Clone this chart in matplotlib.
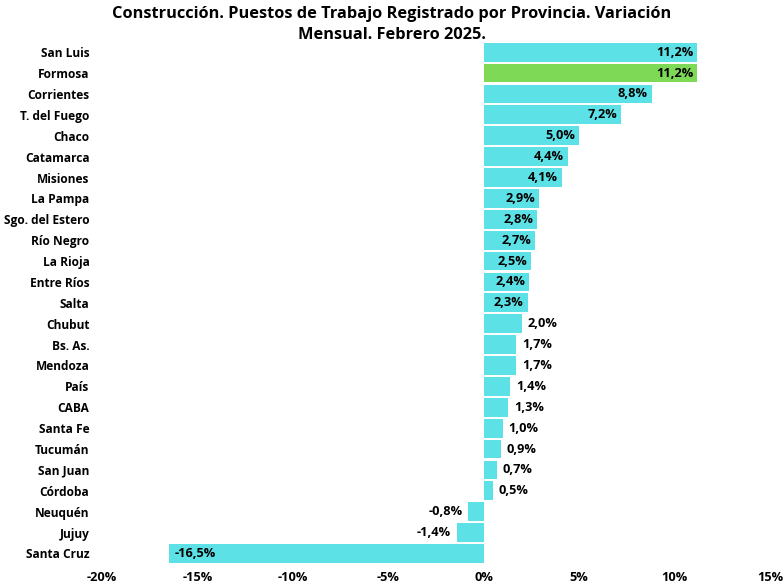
import matplotlib.pyplot as plt

# --------------------------------------------
# Data
# --------------------------------------------

provincias = ["San Luis", "Formosa", "Corrientes", "T. del Fuego", "Chaco",
              "Catamarca", "Misiones", "La Pampa", "Sgo. del Estero", "Río Negro",
              "La Rioja", "Entre Ríos", "Salta", "Chubut", "Bs. As.", "Mendoza",
              "País", "CABA", "Santa Fe", "Tucumán", "San Juan", "Córdoba",
              "Neuquén", "Jujuy", "Santa Cruz"]

variacion = [11.2, 11.2, 8.8, 7.2, 5.0, 4.4, 4.1, 2.9, 2.8, 2.7, 2.5, 2.4, 2.3,
             2.0, 1.7, 1.7, 1.4, 1.3, 1.0, 0.9, 0.7, 0.5, -0.8, -1.4, -16.5]

destacado = "Formosa"

x_ticks = [-20, -15, -10, -5, 0, 5, 10, 15]

# --------------------------------------------
# Plot
# --------------------------------------------

plt.rcParams['font.family'] = ['Open Sans', 'DejaVu Sans']

fig = plt.figure(figsize=(7.84, 5.88), dpi=100)
ax = fig.add_axes([0.130, 0.041, 0.852, 0.888])

ypos = list(range(len(provincias)))[::-1]
colores = ["#7ED957" if p == destacado else "#5CE1E6" for p in provincias]

ax.barh(ypos, variacion, height=0.9, color=colores)

fs = 9.2
for y, v in zip(ypos, variacion):
    txt = ("%.1f%%" % v).replace(".", ",")
    if v >= 2.3:
        ax.text(v - 0.2, y, txt, ha="right", va="center", fontsize=fs, fontweight="bold")
    elif v <= -5:
        ax.text(v + 0.3, y, txt, ha="left", va="center", fontsize=fs, fontweight="bold")
    elif v >= 0:
        ax.text(v + 0.3, y, txt, ha="left", va="center", fontsize=fs, fontweight="bold")
    else:
        ax.text(v - 0.3, y, txt, ha="right", va="center", fontsize=fs, fontweight="bold")

ax.set_xlim(-20, 15)
ax.set_ylim(-0.5, len(provincias) - 0.5)
ax.set_xticks(x_ticks)
ax.set_xticklabels(["%d%%" % t for t in x_ticks], fontsize=fs, fontweight="bold")
ax.set_yticks(ypos)
ax.set_yticklabels(provincias, fontsize=8.6, fontweight="bold")
ax.tick_params(length=0, pad=9)
ax.tick_params(axis="x", pad=5)

for s in ax.spines.values():
    s.set_visible(False)

fig.suptitle("Construcción. Puestos de Trabajo Registrado por Provincia. Variación\nMensual. Febrero 2025.",
             fontsize=11.8, fontweight="bold", y=0.99, linespacing=1.45)

fig.savefig("out.png", dpi=100)
